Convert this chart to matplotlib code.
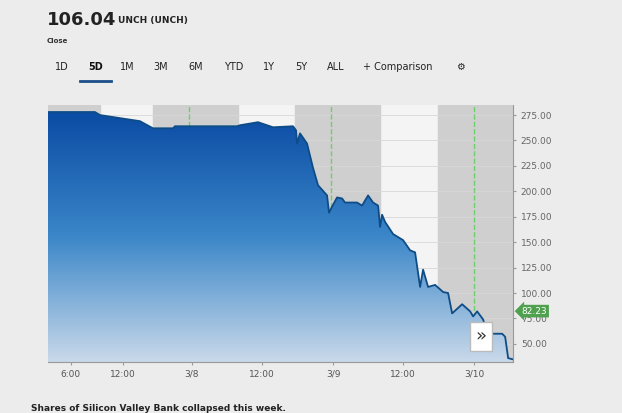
import numpy as np
import matplotlib.pyplot as plt
from matplotlib.patches import Polygon
from matplotlib.colors import LinearSegmentedColormap

# position along the session timeline (chart units) and price
t = [48, 95, 100, 120, 140, 153, 173, 175, 237, 240, 258, 273, 293, 296, 297, 300, 307,
     313, 318, 327, 329, 332, 337, 342, 345, 357, 362, 368, 373, 378, 380, 382, 385, 393,
     403, 410, 415, 420, 423, 428, 435, 443, 448, 452, 462, 470, 473, 477, 483, 487, 502,
     505, 508, 512]
price = [278, 278, 275, 272, 269, 262, 262, 264, 264, 265, 268, 263, 264, 260, 247, 257, 247,
         223, 206, 196, 179, 185, 194, 193, 189, 189, 186, 196, 189, 186, 165, 177, 170, 158,
         152, 142, 140, 106, 123, 106, 108, 101, 100, 80, 89, 82, 77, 82, 74, 60, 60,
         57, 36, 35]
tick_pos = [71, 123, 192, 262, 333, 403, 474]
tick_lab = ["6:00", "12:00", "3/8", "12:00", "3/9", "12:00", "3/10"]
y_ticks = [50, 75, 100, 125, 150, 175, 200, 225, 250, 275]
gray_bands = [(48, 100), (153, 238), (295, 380), (438, 513)]
day_lines = [189, 331, 474]
last_price = 82.23

fig = plt.figure(figsize=(6.22, 4.13), dpi=100)
fig.patch.set_facecolor("#ececec")
ax = fig.add_axes([0.077, 0.123, 0.748, 0.623])
ax.set_facecolor("#f4f4f4")
ymin, ymax = 32, 285
ax.set_xlim(48, 513)
ax.set_ylim(ymin, ymax)

for a, b in gray_bands:
    ax.axvspan(a, b, color="#cfcfcf", zorder=0)
for x in day_lines:
    ax.axvline(x, color="#6ccf6c", lw=1, ls="--", zorder=1)
for y in y_ticks:
    ax.axhline(y, color="#d8d8d8", lw=0.6, zorder=0.5)

cmap = LinearSegmentedColormap.from_list("g", ["#c9d9ea", "#3a86c8", "#0a4aa3"])
grad = np.linspace(0, 1, 256).reshape(-1, 1)
im = ax.imshow(grad, cmap=cmap, origin="lower", aspect="auto",
               extent=[48, 513, ymin, 280], zorder=2)
poly = Polygon(list(zip(t, price)) + [(t[-1], ymin), (t[0], ymin)],
               closed=True, transform=ax.transData)
im.set_clip_path(poly)
ax.plot(t, price, color="#0d4c86", lw=1.3, zorder=3)

ax.yaxis.tick_right()
ax.set_yticks(y_ticks)
ax.set_yticklabels([f"{v:.2f}" for v in y_ticks], fontsize=6.5, color="#666666")
ax.set_xticks(tick_pos)
ax.set_xticklabels(tick_lab, fontsize=6.5, color="#555555")
ax.tick_params(length=2, color="#999999")
for s in ["top", "left"]:
    ax.spines[s].set_visible(False)
ax.spines["right"].set_color("#999999")
ax.spines["bottom"].set_color("#999999")

ax.annotate(f"{last_price:.2f}", xy=(1.0, last_price), xycoords=("axes fraction", "data"),
            xytext=(6, 0), textcoords="offset points", fontsize=6.5, color="white",
            va="center", bbox=dict(boxstyle="larrow,pad=0.2", fc="#4fa04f", ec="none"))
ax.text(0.93, 0.1, "»", transform=ax.transAxes, fontsize=13, color="#333333",
        ha="center", va="center", zorder=4,
        bbox=dict(boxstyle="square,pad=0.3", fc="white", ec="#bbbbbb"))

fig.text(0.075, 0.94, "106.04", fontsize=13, weight="bold", color="#222222")
fig.text(0.19, 0.945, "UNCH (UNCH)", fontsize=6.5, weight="bold", color="#222222")
fig.text(0.075, 0.895, "Close", fontsize=5, weight="bold", color="#333333")
btns = ["1D", "5D", "1M", "3M", "6M", "YTD", "1Y", "5Y", "ALL", "+ Comparison", "⚙"]
bx = [0.1, 0.153, 0.205, 0.258, 0.315, 0.375, 0.433, 0.485, 0.54, 0.64, 0.74]
for x, b in zip(bx, btns):
    fig.text(x, 0.83, b, fontsize=7, ha="center", color="#222222" if b != "5D" else "#111111",
             weight="bold" if b == "5D" else "normal")
fig.add_artist(plt.Line2D([0.128, 0.178], [0.805, 0.805], color="#1a4f8a", lw=2))
fig.text(0.05, 0.005, "Shares of Silicon Valley Bank collapsed this week.", fontsize=6.5,
         weight="bold", color="#222222")

fig.savefig("out.png", dpi=100, facecolor=fig.get_facecolor())
